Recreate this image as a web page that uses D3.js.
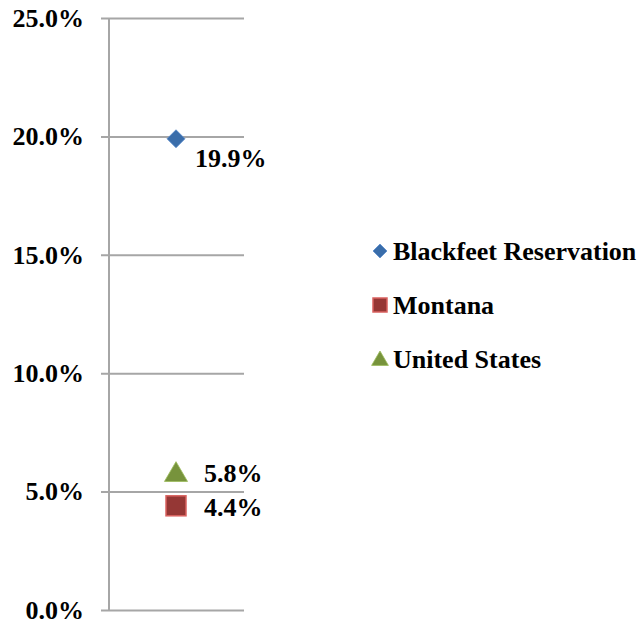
<!DOCTYPE html>
<html>
<head>
<meta charset="utf-8">
<script src="https://cdn.jsdelivr.net/npm/d3@7"></script>
<style>
  body { margin: 0; background: #fff; }
  text { font-family: "Times New Roman", "Liberation Serif", serif; font-weight: bold; }
</style>
</head>
<body>
<div id="chart"></div>
<script>
const seriesNames = ['Blackfeet Reservation', 'Montana', 'United States'];
const seriesValues = [19.9, 4.4, 5.8];
const seriesColors = ['#3a6daa', '#953735', '#77933c'];
const seriesShapes = ['diamond', 'square', 'triangle'];
const tickValues = [0, 5, 10, 15, 20, 25];

const totalWidth = 639, totalHeight = 625;
const plot = { left: 101, right: 244, top: 18, bottom: 610 };
const axisX = 109;
const markerX = 176;

const svg = d3.select('#chart').append('svg')
  .attr('width', totalWidth)
  .attr('height', totalHeight);

const yScale = d3.scaleLinear().domain([0, 25]).range([plot.bottom, plot.top]);

//--------------------- Grid + axis -------------------------------------------
const yAxis = d3.axisLeft(yScale)
  .tickValues(tickValues)
  .tickSize(-(plot.right - plot.left))
  .tickPadding(17)
  .tickFormat(d => d.toFixed(1) + '%');

const yAxisView = svg.append('g')
  .attr('transform', 'translate(' + plot.left + ',0)')
  .call(yAxis);
yAxisView.select('.domain').remove();
yAxisView.selectAll('line').style('stroke', '#a6a6a6').style('stroke-width', 2);
yAxisView.selectAll('text')
  .attr('font-family', null)
  .attr('font-size', null)
  .style('fill', '#000')
  .style('font-size', '26px');

svg.append('line')
  .attr('x1', axisX).attr('x2', axisX)
  .attr('y1', plot.top).attr('y2', plot.bottom)
  .style('stroke', '#a6a6a6').style('stroke-width', 2);

//--------------------- Markers -----------------------------------------------
function drawMarker(g, shape, color, size) {
  if (shape === 'diamond') {
    g.append('path')
      .attr('d', 'M0,' + (-size) + 'L' + size + ',0L0,' + size + 'L' + (-size) + ',0Z')
      .attr('fill', color).attr('stroke', '#5b8ccb').attr('stroke-width', 0.8);
  } else if (shape === 'square') {
    g.append('rect')
      .attr('x', -size).attr('y', -size)
      .attr('width', 2 * size).attr('height', 2 * size)
      .attr('fill', color).attr('stroke', '#d9625f').attr('stroke-width', 1.5);
  } else {
    g.append('path')
      .attr('d', 'M0,' + (-size) + 'L' + (size * 1.05) + ',' + (size * 0.8) + 'L' + (-size * 1.05) + ',' + (size * 0.8) + 'Z')
      .attr('fill', color).attr('stroke', '#9bbb59').attr('stroke-width', 0.8);
  }
}

const markerSizes = [9, 10, 11];
const labelOffsets = [[19, 28], [28, 10], [28, 9]];

seriesNames.forEach((name, i) => {
  const g = svg.append('g')
    .attr('transform', 'translate(' + markerX + ',' + yScale(seriesValues[i]) + ')');
  drawMarker(g, seriesShapes[i], seriesColors[i], markerSizes[i]);
  svg.append('text')
    .attr('x', markerX + labelOffsets[i][0])
    .attr('y', yScale(seriesValues[i]) + labelOffsets[i][1])
    .style('font-size', '26px')
    .text(seriesValues[i].toFixed(1) + '%');
});

//--------------------- Legend ------------------------------------------------
const legend = svg.append('g').attr('transform', 'translate(380,251)');
seriesNames.forEach((name, i) => {
  const row = legend.append('g').attr('transform', 'translate(0,' + (i * 54) + ')');
  drawMarker(row, seriesShapes[i], seriesColors[i], [7, 7, 8][i]);
  row.append('text')
    .attr('x', 13)
    .attr('y', 9)
    .style('font-size', '26px')
    .text(name);
});
</script>
</body>
</html>
